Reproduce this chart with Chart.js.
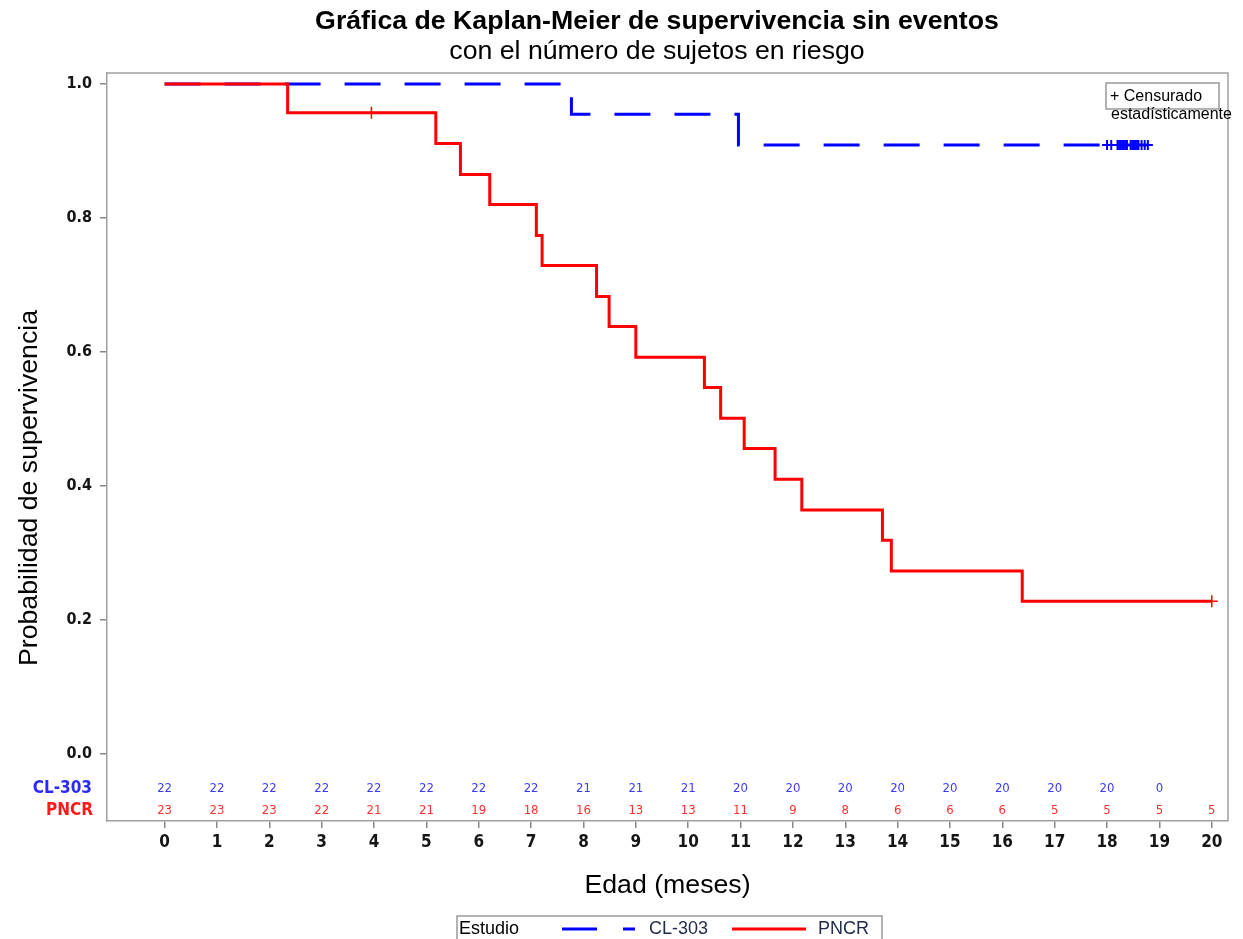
<!DOCTYPE html>
<html>
<head>
<meta charset="utf-8">
<script src="https://cdn.jsdelivr.net/npm/chart.js@4"></script>
<style>
html,body{margin:0;padding:0;background:#fff;}
#wrap{width:1243px;height:939px;}
</style>
</head>
<body>
<div id="wrap"><canvas id="c" width="1243" height="939"></canvas></div>
<script>
// ---- data ----
const pncrTimes = [0, 2.35, 5.18, 5.65, 6.21, 7.10, 7.21, 8.25, 8.49, 9.00, 10.31, 10.62, 11.07, 11.66, 12.17, 13.71, 13.88, 16.38, 20];
const pncrSurv  = [1.0, 0.957, 0.911, 0.865, 0.820, 0.774, 0.729, 0.683, 0.638, 0.592, 0.547, 0.501, 0.456, 0.410, 0.364, 0.319, 0.273, 0.228, 0.228];
const pncrCensorTimes = [3.95, 20];
const pncrCensorSurv  = [0.957, 0.228];

const cl303Times = [0, 7.77, 10.96, 18.78];
const cl303Surv  = [1.0, 0.955, 0.909, 0.909];
const cl303CensorTimes = [18.0, 18.08, 18.2, 18.23, 18.26, 18.29, 18.32, 18.35, 18.38, 18.45, 18.48, 18.5, 18.52, 18.54, 18.56, 18.58, 18.6, 18.66, 18.72, 18.78];
const cl303CensorSurv  = [0.909, 0.909, 0.909, 0.909, 0.909, 0.909, 0.909, 0.909, 0.909, 0.909, 0.909, 0.909, 0.909, 0.909, 0.909, 0.909, 0.909, 0.909, 0.909, 0.909];

const riskTimesCL = [0,1,2,3,4,5,6,7,8,9,10,11,12,13,14,15,16,17,18,19];
const riskCL303   = [22,22,22,22,22,22,22,22,21,21,21,20,20,20,20,20,20,20,20,0];
const riskTimesPN = [0,1,2,3,4,5,6,7,8,9,10,11,12,13,14,15,16,17,18,19,20];
const riskPNCR    = [23,23,23,22,21,21,19,18,16,13,13,11,9,8,6,6,6,5,5,5,5];

const xTickValues = [0,1,2,3,4,5,6,7,8,9,10,11,12,13,14,15,16,17,18,19,20];
const yTickValues = [0,0.2,0.4,0.6,0.8,1.0];

const seriesNames = ['CL-303', 'PNCR'];
const titleText = 'Gráfica de Kaplan-Meier de supervivencia sin eventos';
const subtitleText = 'con el número de sujetos en riesgo';
const xTitle = 'Edad (meses)';
const yTitle = 'Probabilidad de supervivencia';

const BLUE = '#0000ff', RED = '#ff0000';
const zip = (xs, ys) => xs.map((x, i) => ({x, y: ys[i]}));
const TICKFONT = '"DejaVu Sans Condensed", "DejaVu Sans"';

const extras = {
  id: 'extras',
  afterDraw(chart) {
    const {ctx, chartArea: a, scales: {x, y}} = chart;
    ctx.save();
    // titles
    ctx.fillStyle = '#000';
    ctx.textAlign = 'center';
    ctx.textBaseline = 'middle';
    ctx.font = 'bold 26.7px "Liberation Sans"';
    ctx.fillText(titleText, 657, 22);
    ctx.font = '26.7px "Liberation Sans"';
    ctx.fillText(subtitleText, 657, 51.5);

    // frame top/right
    ctx.strokeStyle = '#a0a0a0';
    ctx.lineWidth = 1.5;
    ctx.beginPath();
    ctx.moveTo(a.left, a.top); ctx.lineTo(a.right, a.top); ctx.lineTo(a.right, a.bottom);
    ctx.stroke();

    // risk table
    const yCL = y.getPixelForValue(-0.051);
    const yPN = y.getPixelForValue(-0.084);
    ctx.textAlign = 'center';
    ctx.font = '13px ' + TICKFONT;
    ctx.fillStyle = '#3a3aff';
    riskTimesCL.forEach((t, i) => ctx.fillText(String(riskCL303[i]), x.getPixelForValue(t), yCL));
    ctx.fillStyle = '#ff3030';
    riskTimesPN.forEach((t, i) => ctx.fillText(String(riskPNCR[i]), x.getPixelForValue(t), yPN));
    ctx.textAlign = 'right';
    ctx.font = 'bold 17px ' + TICKFONT;
    ctx.fillStyle = '#2a2aff';
    ctx.fillText(seriesNames[0], 92, yCL);
    ctx.fillStyle = '#ff1a1a';
    ctx.fillText(seriesNames[1], 93, yPN);

    // y axis title
    ctx.save();
    ctx.translate(30, 488);
    ctx.rotate(-Math.PI / 2);
    ctx.textAlign = 'center';
    ctx.fillStyle = '#000';
    ctx.font = '26.7px "Liberation Sans"';
    ctx.fillText(yTitle, 0, 0);
    ctx.restore();

    // censor legend box
    const bx = a.right - 122, by = a.top + 10;
    ctx.strokeStyle = '#999';
    ctx.lineWidth = 1.5;
    ctx.strokeRect(bx, by, 113, 26);
    ctx.fillStyle = '#000';
    ctx.textAlign = 'left';
    ctx.font = '16px "Liberation Sans"';
    ctx.fillText('+ Censurado', bx + 4, by + 14);
    ctx.fillText('estadísticamente', bx + 5, by + 32);

    // bottom legend
    const lx = 457, ly = 916;
    ctx.strokeStyle = '#999';
    ctx.lineWidth = 1.5;
    ctx.strokeRect(lx, ly, 425, 40);
    ctx.font = '18px "Liberation Sans"';
    ctx.fillStyle = '#000';
    ctx.fillText('Estudio', lx + 2, ly + 13);
    ctx.lineWidth = 3;
    ctx.strokeStyle = BLUE;
    ctx.setLineDash([35, 26]);
    ctx.beginPath(); ctx.moveTo(lx + 105, ly + 13); ctx.lineTo(lx + 178, ly + 13); ctx.stroke();
    ctx.setLineDash([]);
    ctx.fillStyle = '#1f2a48';
    ctx.fillText(seriesNames[0], lx + 192, ly + 13);
    ctx.strokeStyle = RED;
    ctx.beginPath(); ctx.moveTo(lx + 275, ly + 13); ctx.lineTo(lx + 349, ly + 13); ctx.stroke();
    ctx.fillText(seriesNames[1], lx + 361, ly + 13);
    ctx.restore();
  }
};

new Chart(document.getElementById('c'), {
  type: 'line',
  data: {
    datasets: [
      { label: seriesNames[1], data: zip(pncrTimes, pncrSurv), borderColor: RED, borderWidth: 3, stepped: true, pointRadius: 0, fill: false, order: 0 },
      { label: seriesNames[1] + ' censor', data: zip(pncrCensorTimes, pncrCensorSurv), showLine: false, pointStyle: 'cross', pointRadius: 6, borderColor: RED, borderWidth: 1.5, order: 0 },
      { label: seriesNames[0], data: zip(cl303Times, cl303Surv), borderColor: BLUE, borderWidth: 3, borderDash: [36, 24], stepped: true, pointRadius: 0, fill: false, order: 1 },
      { label: seriesNames[0] + ' censor', data: zip(cl303CensorTimes, cl303CensorSurv), showLine: false, pointStyle: 'cross', pointRadius: 5, borderColor: BLUE, borderWidth: 2, order: 1 }
    ]
  },
  options: {
    responsive: false,
    animation: false,
    layout: { padding: { left: 0, right: 15, top: 73, bottom: 0 } },
    plugins: {
      legend: { display: false },
      tooltip: { enabled: false },
      title: { display: false },
      subtitle: { display: false }
    },
    scales: {
      x: {
        type: 'linear', min: -1.1, max: 20.31,
        afterBuildTicks: s => { s.ticks = xTickValues.map(v => ({ value: v })); },
        afterFit: s => { s.height = 118; },
        ticks: { autoSkip: false, maxRotation: 0, padding: 4, color: '#151515', font: { family: TICKFONT, size: 17, weight: 'bold' }, callback: v => String(v) },
        grid: { display: true, drawOnChartArea: false, drawTicks: true, tickLength: 7, color: '#888', lineWidth: 1.5 },
        border: { display: true, color: '#a0a0a0', width: 1.5 },
        title: { display: true, text: xTitle, color: '#000', font: { family: 'Liberation Sans', size: 26.7 }, padding: { top: 0, bottom: 37 } }
      },
      y: {
        type: 'linear', min: -0.1, max: 1.0164,
        afterBuildTicks: s => { s.ticks = yTickValues.map(v => ({ value: v })); },
        afterFit: s => { s.width = 107; },
        ticks: { padding: 8, color: '#151515', font: { family: TICKFONT, size: 16, weight: 'bold' }, callback: v => Number(v).toFixed(1) },
        grid: { display: true, drawOnChartArea: false, drawTicks: true, tickLength: 7, color: '#888', lineWidth: 1.5 },
        border: { display: true, color: '#a0a0a0', width: 1.5 }
      }
    }
  },
  plugins: [extras]
});
</script>
</body>
</html>
